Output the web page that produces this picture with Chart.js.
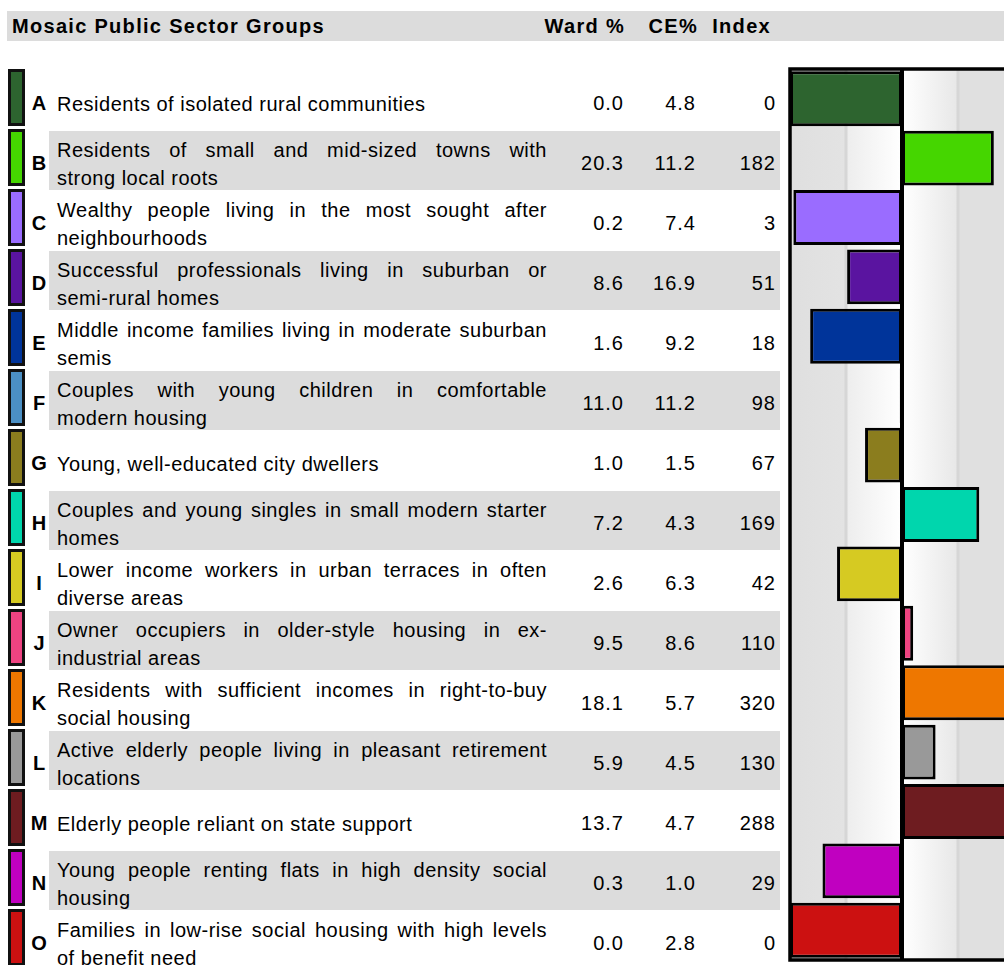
<!DOCTYPE html>
<html>
<head>
<meta charset="utf-8">
<script src="https://cdn.jsdelivr.net/npm/chart.js@4.4.0/dist/chart.umd.min.js"></script>
<style>
  html, body { margin: 0; padding: 0; overflow: hidden; background: #fff; }
  body { position: relative; width: 1004px; height: 965px; font-family: "Liberation Sans", Arial, sans-serif; color: #000; }
  #header { position: absolute; left: 7px; top: 11px; width: 997px; height: 30px; background: #dcdcdc; }
  .head { position: absolute; top: 0; line-height: 31px; font-size: 20px; font-weight: bold; letter-spacing: 1.3px; white-space: nowrap; }
  .head.r { width: 120px; text-align: right; }
  .band { position: absolute; left: 49px; width: 731px; height: 59px; background: #dcdcdc; }
  .swatch { position: absolute; left: 8px; width: 17px; height: 57px; border: 3px solid #111; box-sizing: border-box; }
  .row { position: absolute; left: 0; width: 780px; height: 59px; font-size: 20px; letter-spacing: 0.5px; }
  .cell { position: absolute; top: 0; height: 100%; display: flex; flex-direction: column; justify-content: center; white-space: nowrap; }
  .letter { width: 40px; left: 19px; text-align: center; font-weight: bold; letter-spacing: 0; }
  .desc { left: 57px; width: 490px; line-height: 28px; }
  .desc .just { text-align: justify; text-align-last: justify; white-space: normal; }
  .num { width: 80px; text-align: right; letter-spacing: 1px; }
  #chartBox { position: absolute; left: 786px; top: 65px; }
</style>
</head>
<body>
<div id="header"></div>
<div id="table"></div>
<div id="chartBox"><canvas id="indexChart" width="232" height="899"></canvas></div>

<script>
// =====================
// Data
// =====================
const groupLetters = ['A', 'B', 'C', 'D', 'E', 'F', 'G', 'H', 'I', 'J', 'K', 'L', 'M', 'N', 'O'];

const groupNames = [
  'Residents of isolated rural communities',
  'Residents of small and mid-sized towns with\nstrong local roots',
  'Wealthy people living in the most sought after\nneighbourhoods',
  'Successful professionals living in suburban or\nsemi-rural homes',
  'Middle income families living in moderate suburban\nsemis',
  'Couples with young children in comfortable\nmodern housing',
  'Young, well-educated city dwellers',
  'Couples and young singles in small modern starter\nhomes',
  'Lower income workers in urban terraces in often\ndiverse areas',
  'Owner occupiers in older-style housing in ex-\nindustrial areas',
  'Residents with sufficient incomes in right-to-buy\nsocial housing',
  'Active elderly people living in pleasant retirement\nlocations',
  'Elderly people reliant on state support',
  'Young people renting flats in high density social\nhousing',
  'Families in low-rise social housing with high levels\nof benefit need'
];

const wardPct  = [0.0, 20.3, 0.2, 8.6, 1.6, 11.0, 1.0, 7.2, 2.6, 9.5, 18.1, 5.9, 13.7, 0.3, 0.0];
const cePct    = [4.8, 11.2, 7.4, 16.9, 9.2, 11.2, 1.5, 4.3, 6.3, 8.6, 5.7, 4.5, 4.7, 1.0, 2.8];
const indexVal = [0, 182, 3, 51, 18, 98, 67, 169, 42, 110, 320, 130, 288, 29, 0];

const groupColors = [
  '#2d642f', '#45d600', '#9a6cff', '#5a14a0', '#00349a',
  '#4b8fc4', '#8b7d1e', '#00d6ad', '#d6ca22', '#ee4381',
  '#ee7700', '#999999', '#6e1c20', '#c000c0', '#cc1111'
];

const headTitle = 'Mosaic Public Sector Groups';
const headCols = ['Ward %', 'CE%', 'Index'];

// =====================
// Table (left side)
// =====================
const header = document.getElementById('header');
const title = document.createElement('span');
title.className = 'head';
title.style.left = '5px';
title.textContent = headTitle;
header.appendChild(title);

const headRight = [625, 698, 771];
headCols.forEach((txt, i) => {
  const s = document.createElement('span');
  s.className = 'head r';
  s.style.left = (headRight[i] - 120 - 7) + 'px';
  s.textContent = txt;
  header.appendChild(s);
});

const table = document.getElementById('table');
const numRight = [624, 696, 776];

groupLetters.forEach((letter, i) => {
  const top = 71 + i * 60;

  if (i % 2 === 1) {
    const band = document.createElement('div');
    band.className = 'band';
    band.style.top = top + 'px';
    table.appendChild(band);
  }

  const sw = document.createElement('div');
  sw.className = 'swatch';
  sw.style.top = (top - 2) + 'px';
  sw.style.background = groupColors[i];
  table.appendChild(sw);

  const row = document.createElement('div');
  row.className = 'row';
  row.style.top = (top + 3) + 'px';

  const l = document.createElement('div');
  l.className = 'cell letter';
  l.textContent = letter;
  row.appendChild(l);

  const d = document.createElement('div');
  d.className = 'cell desc';
  const lines = groupNames[i].split('\n');
  lines.forEach((ln, k) => {
    const div = document.createElement('div');
    if (lines.length > 1 && k === 0) div.className = 'just';
    div.textContent = ln;
    d.appendChild(div);
  });
  row.appendChild(d);

  [wardPct[i].toFixed(1), cePct[i].toFixed(1), String(indexVal[i])].forEach((v, k) => {
    const n = document.createElement('div');
    n.className = 'cell num';
    n.style.left = (numRight[k] - 80) + 'px';
    n.textContent = v;
    row.appendChild(n);
  });

  table.appendChild(row);
});

// =====================
// Index bar chart (right side)
// =====================
const panelPlugin = {
  id: 'panel',
  beforeDatasetsDraw(chart) {
    const { ctx, chartArea: a, scales: { x } } = chart;
    const g = ctx.createLinearGradient(a.left, 0, a.right, 0);
    g.addColorStop(0, '#dfdfdf');
    g.addColorStop(0.25, '#e3e3e3');
    g.addColorStop(0.251, '#ededed');
    g.addColorStop(0.5, '#ffffff');
    g.addColorStop(0.749, '#e7e7e7');
    g.addColorStop(0.75, '#e0e0e0');
    g.addColorStop(1, '#e0e0e0');
    ctx.save();
    ctx.fillStyle = g;
    ctx.fillRect(a.left, a.top, a.right - a.left, a.bottom - a.top);
    ctx.strokeStyle = '#d6d6d6';
    ctx.lineWidth = 3;
    [50, 150].forEach(v => {
      const px = x.getPixelForValue(v);
      ctx.beginPath();
      ctx.moveTo(px, a.top);
      ctx.lineTo(px, a.bottom);
      ctx.stroke();
    });
    ctx.restore();
  },
  afterDatasetsDraw(chart) {
    const { ctx, chartArea: a, scales: { x } } = chart;
    ctx.save();
    ctx.strokeStyle = '#000';
    ctx.lineWidth = 4;
    const px = x.getPixelForValue(100);
    ctx.beginPath();
    ctx.moveTo(px, a.top);
    ctx.lineTo(px, a.bottom);
    ctx.stroke();
    ctx.lineWidth = 3.5;
    ctx.strokeRect(a.left, a.top, a.right - a.left, a.bottom - a.top);
    ctx.restore();
  }
};

new Chart(document.getElementById('indexChart').getContext('2d'), {
  type: 'bar',
  data: {
    labels: groupLetters,
    datasets: [{
      data: indexVal,
      base: 100,
      backgroundColor: groupColors,
      borderColor: '#000',
      borderWidth: 3,
      borderSkipped: false,
      barPercentage: 1,
      categoryPercentage: 0.925
    }]
  },
  options: {
    indexAxis: 'y',
    responsive: false,
    animation: false,
    devicePixelRatio: 1,
    layout: { padding: 4 },
    plugins: { legend: { display: false }, tooltip: { enabled: false } },
    scales: {
      x: { min: 0, max: 200, display: false },
      y: { display: false }
    }
  },
  plugins: [panelPlugin]
});
</script>
</body>
</html>
